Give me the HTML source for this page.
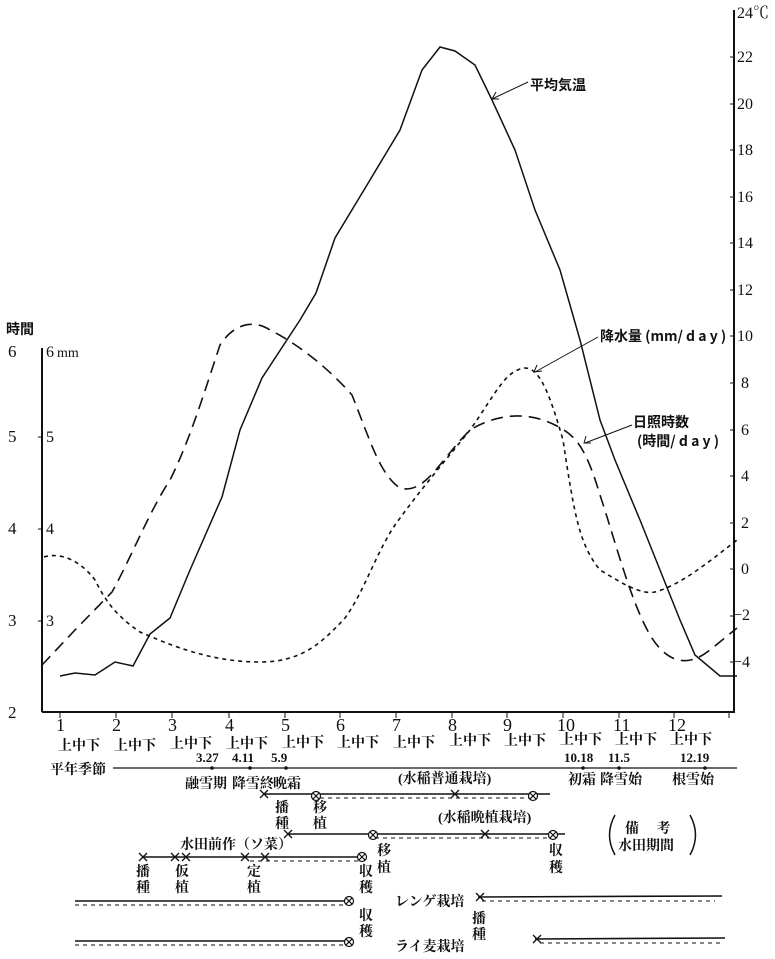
<!DOCTYPE html>
<html><head><meta charset="utf-8"><style>
body{margin:0;background:#fff}
svg{display:block}
text{font-family:"Liberation Serif","Noto Serif CJK SC","Noto Sans CJK JP",serif;fill:#111}
.j{font-family:"Noto Sans CJK JP","Liberation Sans",sans-serif;font-size:14px;font-weight:bold}
</style></head><body>
<svg width="775" height="959" viewBox="0 0 775 959" xmlns="http://www.w3.org/2000/svg">
<defs>
<g id="x"><path d="M-4,-4 L4,4 M-4,4 L4,-4" stroke="#111" stroke-width="1.3" fill="none"/></g>
<g id="o"><circle r="4.5" fill="#fff" stroke="#111" stroke-width="1.2"/><path d="M-3.2,-3.2 L3.2,3.2 M-3.2,3.2 L3.2,-3.2" stroke="#111" stroke-width="1.1"/></g>
</defs>
<g stroke="#111" fill="none">
<line x1="42" y1="348" x2="42" y2="712" stroke-width="2"/>
<line x1="42" y1="712" x2="735" y2="712" stroke-width="2"/>
<line x1="734" y1="10" x2="734" y2="712" stroke-width="2"/>
<g stroke-width="1">
<line x1="38" y1="437" x2="42" y2="437"/><line x1="38" y1="529" x2="42" y2="529"/><line x1="38" y1="621" x2="42" y2="621"/>
<path d="M730,57H734M730,104H734M730,150H734M730,197H734M730,243H734M730,290H734M730,336H734M730,383H734M730,430H734M730,476H734M730,523H734M730,569H734M730,616H734M730,662H734"/>
<line x1="60" y1="712" x2="60" y2="718"/><line x1="116" y1="712" x2="116" y2="718"/><line x1="172" y1="712" x2="172" y2="718"/><line x1="229" y1="712" x2="229" y2="718"/><line x1="285" y1="712" x2="285" y2="718"/><line x1="340" y1="712" x2="340" y2="718"/><line x1="396" y1="712" x2="396" y2="718"/><line x1="452" y1="712" x2="452" y2="718"/><line x1="507" y1="712" x2="507" y2="718"/><line x1="563" y1="712" x2="563" y2="718"/><line x1="619" y1="712" x2="619" y2="718"/><line x1="674" y1="712" x2="674" y2="718"/><line x1="729" y1="712" x2="729" y2="718"/>
</g>
<polyline stroke-width="1.5" points="60,676 75,673 95,675 115,662 133,666 150,634 170,618 190,570 222,497 240,430 262,378 300,320 316,293 335,238 370,180 400,130 422,70 440,47 455,51 475,65 492,100 515,150 535,210 560,270 580,340 600,420 615,460 640,520 680,620 695,655 720,676 737,676"/>
<path stroke-width="1.6" stroke-dasharray="12,7" d="M42,665 L75,630 L112,592 C130,560 150,510 170,480 C190,440 205,390 220,345 C235,322 255,320 270,330 C300,345 330,370 352,395 C370,440 380,475 400,488 C425,495 440,460 470,430 C495,415 525,410 555,425 C575,435 585,445 600,495 C615,540 630,600 650,635 C665,660 685,670 710,650 L737,628"/>
<path stroke-width="1.6" stroke-dasharray="4,4" d="M44,557 C60,552 80,560 95,580 C105,600 115,615 140,632 C170,645 210,662 260,662 C300,662 320,645 345,618 C365,590 375,555 395,525 C420,490 450,455 470,430 C495,395 505,370 525,368 C540,368 550,395 563,440 C575,520 580,545 600,570 C620,582 640,595 655,592 C680,585 705,565 737,540"/>
<line x1="492" y1="99" x2="528" y2="82" stroke-width="1"/>
<polyline points="496,92 492,99 499,99" stroke-width="1"/>
<line x1="535" y1="372" x2="598" y2="337" stroke-width="1"/>
<polyline points="537,365 534,372 542,371" stroke-width="1"/>
<line x1="585" y1="443" x2="632" y2="425" stroke-width="1"/>
<polyline points="586,436 584,443 591,443" stroke-width="1"/>
<line x1="113" y1="768" x2="737" y2="768" stroke-width="1.3"/>
<g stroke-width="1.6">
<line x1="264" y1="794" x2="550" y2="794"/>
<line x1="288" y1="834" x2="565" y2="834"/>
<line x1="143" y1="857" x2="362" y2="857"/>
<line x1="75" y1="901" x2="348" y2="901"/>
<line x1="478" y1="897" x2="722" y2="896"/>
<line x1="75" y1="941" x2="348" y2="941"/>
<line x1="535" y1="939" x2="725" y2="938"/>
</g>
<g stroke-width="1.1" stroke-dasharray="4,4">
<line x1="320" y1="798" x2="530" y2="798"/>
<line x1="375" y1="838" x2="550" y2="838"/>
<line x1="250" y1="861" x2="358" y2="861"/>
<line x1="75" y1="905" x2="345" y2="905"/>
<line x1="482" y1="901" x2="715" y2="901"/>
<line x1="75" y1="945" x2="345" y2="945"/>
<line x1="540" y1="943" x2="720" y2="943"/>
</g>
<path stroke-width="1.5" d="M615,815 Q604,835 615,855 M690,815 Q701,835 690,855"/>
</g>
<g fill="#111"><circle cx="212" cy="768" r="1.8"/><circle cx="250" cy="768" r="1.8"/><circle cx="286" cy="768" r="1.8"/><circle cx="583" cy="768" r="1.8"/><circle cx="619" cy="768" r="1.8"/><circle cx="705" cy="768" r="1.8"/></g>
<use href="#o" x="316" y="796"/><use href="#o" x="533" y="796"/>
<use href="#o" x="373" y="835"/><use href="#o" x="553" y="835"/>
<use href="#o" x="362" y="857"/><use href="#o" x="349" y="901"/><use href="#o" x="349" y="942"/>
<use href="#x" x="264" y="794"/><use href="#x" x="455" y="794"/>
<use href="#x" x="288" y="834"/><use href="#x" x="485" y="834"/>
<use href="#x" x="143" y="857"/><use href="#x" x="175" y="857"/><use href="#x" x="186" y="857"/><use href="#x" x="245" y="857"/><use href="#x" x="265" y="857"/>
<use href="#x" x="480" y="897"/><use href="#x" x="537" y="939"/>
<g font-size="17"><text x="8" y="357">6</text><text x="8" y="442">5</text><text x="8" y="534">4</text><text x="8" y="626">3</text><text x="8" y="718">2</text></g>
<g font-size="16"><text x="46" y="357">6</text><text x="57" y="357" font-size="14">mm</text><text x="46" y="442">5</text><text x="46" y="534">4</text><text x="46" y="626">3</text></g>
<text class="j" x="6" y="334">時間</text>
<g font-size="16">
<text x="737" y="18">24℃</text><text x="737" y="62">22</text><text x="737" y="109">20</text><text x="737" y="155">18</text><text x="737" y="202">16</text><text x="737" y="248">14</text><text x="737" y="295">12</text><text x="737" y="341">10</text><text x="741" y="388">8</text><text x="741" y="435">6</text><text x="741" y="481">4</text><text x="741" y="528">2</text><text x="741" y="574">0</text><text x="733" y="620">−2</text><text x="733" y="667">−4</text>
</g>
<text class="j" x="530" y="90" font-size="13">平均気温</text>
<text class="j" x="600" y="341" font-size="13">降水量 (mm/ d a y )</text>
<text class="j" x="633" y="427" font-size="13">日照時数</text>
<text class="j" x="637" y="446" font-size="13">(時間/ d a y )</text>
<g font-size="18">
<text x="56" y="731">1</text><text x="112" y="731">2</text><text x="168" y="731">3</text><text x="225" y="731">4</text><text x="281" y="731">5</text><text x="336" y="731">6</text><text x="392" y="731">7</text><text x="448" y="731">8</text><text x="503" y="731">9</text><text x="557" y="731">10</text><text x="613" y="731">11</text><text x="668" y="731">12</text>
</g>
<g class="j" font-size="13">
<text x="58" y="750">上中下</text><text x="114" y="750">上中下</text><text x="170" y="748">上中下</text><text x="226" y="748">上中下</text><text x="282" y="747">上中下</text><text x="337" y="747">上中下</text><text x="393" y="747">上中下</text><text x="449" y="745">上中下</text><text x="504" y="745">上中下</text><text x="560" y="744">上中下</text><text x="615" y="744">上中下</text><text x="670" y="744">上中下</text>
<text x="50" y="774" font-size="14">平年季節</text>
<text x="185" y="788">融雪期</text><text x="232" y="788">降雪終</text><text x="273" y="788">晩霜</text>
<text x="568" y="784">初霜</text><text x="600" y="784">降雪始</text><text x="672" y="784">根雪始</text>
<text x="398" y="783">(水稲普通栽培)</text>
<text x="438" y="822">(水稲晩植栽培)</text>
<text x="180" y="849">水田前作（ソ菜）</text>
<text x="625" y="833">備　 考</text><text x="618" y="850">水田期間</text>
<text x="395" y="906">レンゲ栽培</text><text x="395" y="951">ライ麦栽培</text>
</g>
<g font-size="13" font-weight="bold">
<text x="196" y="762">3.27</text><text x="232" y="762">4.11</text><text x="271" y="762">5.9</text>
<text x="564" y="762">10.18</text><text x="608" y="762">11.5</text><text x="680" y="762">12.19</text>
</g>
<g class="j" font-size="13" text-anchor="middle">
<text x="282" y="812">播</text><text x="282" y="828">種</text>
<text x="320" y="812">移</text><text x="320" y="828">植</text>
<text x="143" y="876">播</text><text x="143" y="892">種</text>
<text x="182" y="876">仮</text><text x="182" y="892">植</text>
<text x="254" y="876">定</text><text x="254" y="892">植</text>
<text x="366" y="876">収</text><text x="366" y="892">穫</text>
<text x="384" y="855">移</text><text x="384" y="872">植</text>
<text x="556" y="855">収</text><text x="556" y="872">穫</text>
<text x="366" y="920">収</text><text x="366" y="936">穫</text>
<text x="479" y="923">播</text><text x="479" y="939">種</text>
</g>
</svg>
</body></html>
